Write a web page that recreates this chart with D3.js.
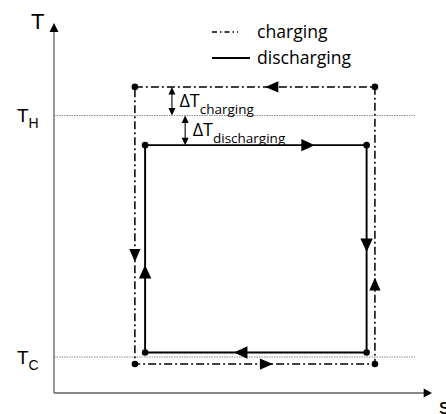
<!DOCTYPE html>
<html>
<head>
<meta charset="utf-8">
<script src="https://cdn.jsdelivr.net/npm/d3@7"></script>
<style>
  html, body { margin: 0; padding: 0; background: #fff; }
  svg { display: block; }
</style>
</head>
<body>
<svg id="chart" width="446" height="414"></svg>
<script>
// Temperature levels of the storage cycle (arbitrary T units)
const refLevels = [
  { name: "H", T: 79.5 },
  { name: "C", T: 10.3 }
];
// Charging cycle: corner entropies and temperatures
const chargingS = [21.4, 84.9];
const chargingT = [8.3, 87.7];   // [low, high]
// Discharging cycle
const dischargingS = [24.1, 82.7];
const dischargingT = [11.6, 71.0];
// Arrow tips along each leg (coordinate along the leg, in data units)
const chargingArrows = [
  { leg: "top", at: 55.9, dir: "left" },
  { leg: "left", at: 37.5, dir: "down" },
  { leg: "bottom", at: 57.9, dir: "right" },
  { leg: "right", at: 33.1, dir: "up" }
];
const dischargingArrows = [
  { leg: "top", at: 69.0, dir: "right" },
  { leg: "right", at: 40.4, dir: "down" },
  { leg: "bottom", at: 47.6, dir: "left" },
  { leg: "left", at: 36.7, dir: "up" }
];
const legendItems = ["charging", "discharging"];

const svg = d3.select("#chart");
const x = d3.scaleLinear().domain([0, 100]).range([54, 432]);
const y = d3.scaleLinear().domain([0, 106]).range([393, 23]);

const axisColor = "#606060";
const sansCal = "'Open Sans', 'DejaVu Sans', sans-serif";
const sansAr = "'Liberation Sans', Arial, sans-serif";

// Axes with arrow heads
svg.append("line").attr("x1", x(0)).attr("y1", y(0)).attr("x2", x(0)).attr("y2", y(103.5))
  .attr("stroke", axisColor).attr("stroke-width", 1.3);
svg.append("path")
  .attr("d", `M${x(0)},${y(106)} L${x(0) - 4.5},${y(103.4)} L${x(0) + 4.5},${y(103.4)} Z`)
  .attr("fill", "#000");
svg.append("line").attr("x1", x(0)).attr("y1", y(0)).attr("x2", x(98)).attr("y2", y(0))
  .attr("stroke", axisColor).attr("stroke-width", 1.3);
svg.append("path")
  .attr("d", `M${x(100)},${y(0)} L${x(97.8)},${y(0) - 4.5} L${x(97.8)},${y(0) + 4.5} Z`)
  .attr("fill", "#000");

svg.append("text").attr("x", 31).attr("y", 29)
  .attr("font-family", sansAr).attr("font-size", 22).text("T");
svg.append("text").attr("x", 439).attr("y", 414)
  .attr("font-family", sansAr).attr("font-size", 22).text("s");

// Reference temperature lines T_H and T_C
refLevels.forEach(d => {
  svg.append("line")
    .attr("x1", x(0)).attr("x2", x(95.5))
    .attr("y1", y(d.T)).attr("y2", y(d.T))
    .attr("stroke", "#8a8a8a").attr("stroke-width", 1)
    .attr("stroke-dasharray", "1.5,1");
  const t = svg.append("text")
    .attr("x", 17).attr("y", y(d.T) + 6.5)
    .attr("font-family", sansAr).attr("font-size", 19).text("T");
  t.append("tspan").attr("dy", 6).attr("font-size", 14).text(d.name);
});

function cyclePath(sv, tv) {
  const p = d3.path();
  p.moveTo(x(sv[0]), y(tv[1]));
  p.lineTo(x(sv[1]), y(tv[1]));
  p.lineTo(x(sv[1]), y(tv[0]));
  p.lineTo(x(sv[0]), y(tv[0]));
  p.closePath();
  return p.toString();
}

function arrowHead(px, py, dir, len, half) {
  const v = { left: [-1, 0], right: [1, 0], up: [0, -1], down: [0, 1] }[dir];
  const bx = px - v[0] * len, by = py - v[1] * len;
  const nx = -v[1], ny = v[0];
  return `M${px},${py} L${bx + nx * half},${by + ny * half} L${bx - nx * half},${by - ny * half} Z`;
}

function drawCycle(sv, tv, arrows, dash, width, len, half) {
  svg.append("path").attr("d", cyclePath(sv, tv))
    .attr("fill", "none").attr("stroke", "#000")
    .attr("stroke-width", width).attr("stroke-dasharray", dash);
  arrows.forEach(a => {
    let px, py;
    if (a.leg === "top") { px = x(a.at); py = y(tv[1]); }
    if (a.leg === "bottom") { px = x(a.at); py = y(tv[0]); }
    if (a.leg === "left") { px = x(sv[0]); py = y(a.at); }
    if (a.leg === "right") { px = x(sv[1]); py = y(a.at); }
    svg.append("path").attr("d", arrowHead(px, py, a.dir, len, half)).attr("fill", "#000");
  });
  const corners = [[sv[0], tv[1]], [sv[1], tv[1]], [sv[1], tv[0]], [sv[0], tv[0]]];
  svg.selectAll(null).data(corners).enter().append("circle")
    .attr("cx", d => x(d[0])).attr("cy", d => y(d[1])).attr("r", 3.3).attr("fill", "#000");
}

drawCycle(chargingS, chargingT, chargingArrows, "8,3,2,3", 1.5, 13, 5.6);
drawCycle(dischargingS, dischargingT, dischargingArrows, null, 1.9, 13.5, 6.2);

// Temperature difference markers
function deltaMarker(sPos, tTop, tBot, label) {
  const xx = x(sPos), y1 = y(tTop), y2 = y(tBot);
  svg.append("line").attr("x1", xx).attr("x2", xx).attr("y1", y1 + 5).attr("y2", y2 - 5)
    .attr("stroke", "#000").attr("stroke-width", 1.1);
  svg.append("path").attr("d", arrowHead(xx, y1, "up", 7.5, 3.5)).attr("fill", "#000");
  svg.append("path").attr("d", arrowHead(xx, y2, "down", 7.5, 3.5)).attr("fill", "#000");
  const t = svg.append("text").attr("x", xx + 7.5).attr("y", (y1 + y2) / 2 + 6)
    .attr("font-family", sansCal).attr("font-size", 18).text("ΔT");
  t.append("tspan").attr("dy", 6.5).attr("font-size", 13.5).text(label);
}
deltaMarker(31.2, chargingT[1], refLevels[0].T, "charging");
deltaMarker(34.7, refLevels[0].T, dischargingT[1], "discharging");

// Legend
const lg = svg.append("g");
lg.append("line").attr("x1", 212).attr("x2", 238).attr("y1", 32).attr("y2", 32)
  .attr("stroke", "#000").attr("stroke-width", 1.4).attr("stroke-dasharray", "5,3,1.5,3");
lg.append("line").attr("x1", 212).attr("x2", 250).attr("y1", 58).attr("y2", 58)
  .attr("stroke", "#000").attr("stroke-width", 1.9);
lg.selectAll("text").data(legendItems).enter().append("text")
  .attr("x", 257).attr("y", (d, i) => 38 + i * 26)
  .attr("font-family", sansCal).attr("font-size", 17.6).text(d => d);
</script>
</body>
</html>
